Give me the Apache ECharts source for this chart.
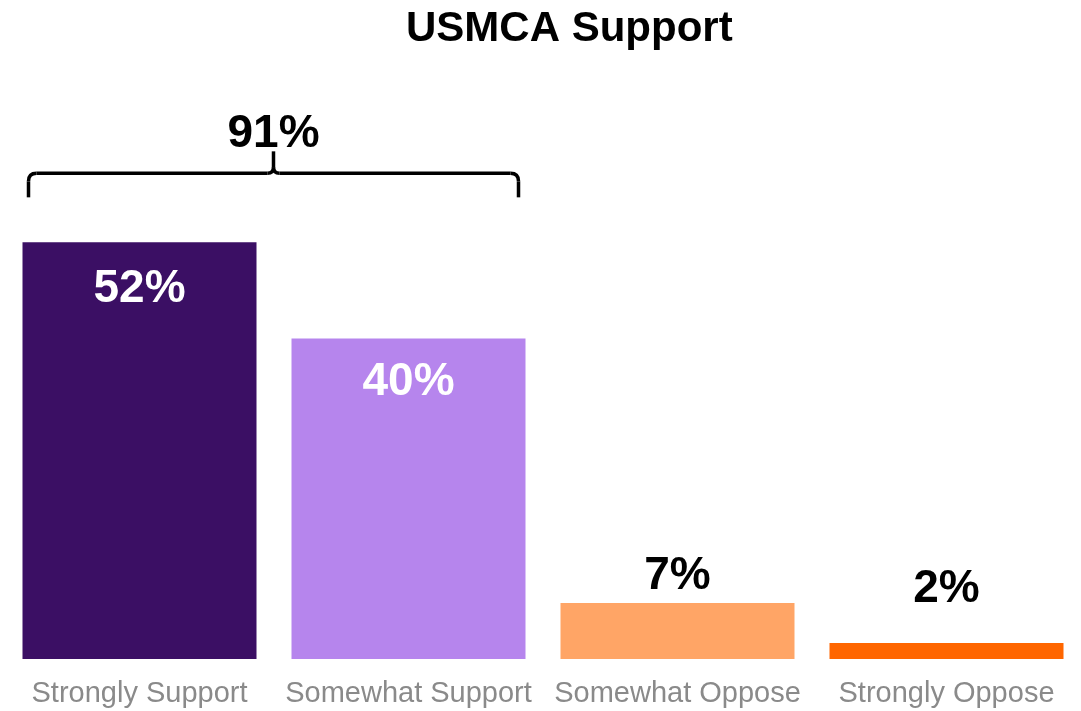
<!DOCTYPE html>
<html>
<head>
<meta charset="utf-8">
<title>USMCA Support</title>
<script src="https://cdn.jsdelivr.net/npm/echarts@6/dist/echarts.min.js"></script>
<style>
  html, body { margin: 0; padding: 0; background: #ffffff; }
  #chart { width: 1081px; height: 711px; }
</style>
</head>
<body>
<div id="chart"></div>
<script>
// Survey responses on the USMCA trade agreement
const categories = ['Strongly Support', 'Somewhat Support', 'Somewhat Oppose', 'Strongly Oppose'];
const shares = [52, 40, 7, 2];
const barColors = ['#3B0F64', '#B685ED', '#FFA566', '#FF6600'];
const labelColors = ['#ffffff', '#ffffff', '#000000', '#000000'];
const labelInside = [true, true, false, false];
const labelGaps = [24, 21, 4, 31];
// Combined "support" share shown above the bracket (reported rounded total)
const netSupport = 91;
const bracketCategories = ['Strongly Support', 'Somewhat Support'];

const FONT = '"Liberation Sans", Arial, Helvetica, sans-serif';
const BAR_WIDTH = 234;

const chart = echarts.init(document.getElementById('chart'), null, { renderer: 'canvas' });

const option = {
  animation: false,
  backgroundColor: '#ffffff',
  title: {
    text: 'USMCA Support',
    left: 401,
    top: 3,
    textStyle: { fontFamily: FONT, fontSize: 42, fontWeight: 'bold', color: '#000000' }
  },
  grid: { left: 5, right: 0, top: 98, bottom: 52, containLabel: false },
  xAxis: {
    type: 'category',
    data: categories,
    axisLine: { show: false },
    axisTick: { show: false },
    axisLabel: { color: '#8A8A8A', fontFamily: FONT, fontSize: 29, margin: 20, interval: 0 }
  },
  yAxis: {
    type: 'value',
    min: 0,
    max: 70,
    show: false,
    splitLine: { show: false }
  },
  series: [{
    type: 'bar',
    barWidth: BAR_WIDTH,
    data: shares.map((v, i) => ({
      value: v,
      itemStyle: { color: barColors[i] },
      label: {
        show: true,
        position: labelInside[i] ? 'insideTop' : 'top',
        distance: labelGaps[i],
        formatter: '{c}%',
        color: labelColors[i],
        fontFamily: FONT,
        fontSize: 46,
        fontWeight: 'bold'
      }
    }))
  }]
};

chart.setOption(option);

// Bracket over the two "support" bars, positioned from the axis scales
function drawBracket() {
  const leftCenter = chart.convertToPixel({ xAxisIndex: 0 }, bracketCategories[0]);
  const rightCenter = chart.convertToPixel({ xAxisIndex: 0 }, bracketCategories[1]);
  const L = leftCenter - BAR_WIDTH / 2 + 6;
  const R = rightCenter + BAR_WIDTH / 2 - 7;
  const C = (L + R) / 2;
  const yLine = chart.convertToPixel({ yAxisIndex: 0 }, 60.6);
  const yEnd = yLine + 24;
  const yTip = yLine - 22;
  const r = 8;   // outer corner radius
  const rc = 6;  // centre cusp radius

  const stroke = { stroke: '#000000', lineWidth: 3.5, fill: null, lineCap: 'butt' };
  const seg = (x1, y1, x2, y2) => ({
    type: 'line', silent: true,
    shape: { x1, y1, x2, y2 },
    style: stroke
  });
  const curve = (x1, y1, cx, cy, x2, y2) => ({
    type: 'bezierCurve', silent: true,
    shape: { x1, y1, cpx1: cx, cpy1: cy, x2, y2 },
    style: stroke
  });

  const pieces = [
    seg(L, yEnd, L, yLine + r),
    curve(L, yLine + r, L, yLine, L + r, yLine),
    seg(L + r, yLine, C - rc, yLine),
    curve(C - rc, yLine, C, yLine, C, yLine - rc),
    seg(C, yLine - rc, C, yTip),
    curve(C + rc, yLine, C, yLine, C, yLine - rc),
    seg(C + rc, yLine, R - r, yLine),
    curve(R - r, yLine, R, yLine, R, yLine + r),
    seg(R, yLine + r, R, yEnd)
  ];

  chart.setOption({
    graphic: [
      {
        type: 'group',
        id: 'bracket',
        silent: true,
        children: pieces
      },
      {
        type: 'text',
        id: 'netLabel',
        x: C,
        y: yTip - 17,
        silent: true,
        style: {
          text: netSupport + '%',
          fill: '#000000',
          font: 'bold 46px ' + FONT,
          textAlign: 'center',
          textVerticalAlign: 'middle'
        }
      }
    ]
  });
}

drawBracket();
</script>
</body>
</html>
